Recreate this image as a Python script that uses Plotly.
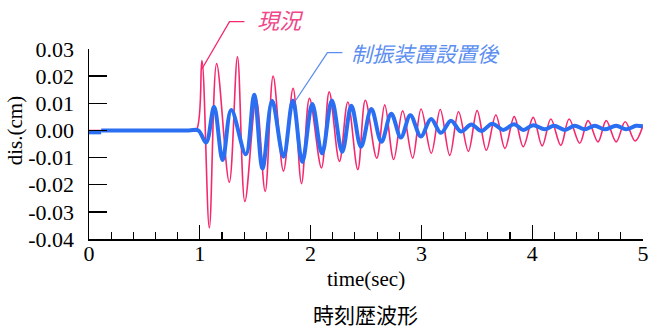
import plotly.graph_objects as go

# ---- data ----
genkyo_t = [0.0, 0.90, 0.967, 1.019, 1.086, 1.152, 1.266, 1.340, 1.407, 1.509, 1.590, 1.662, 1.755,
            1.842, 1.918, 1.990, 2.098, 2.168, 2.260, 2.336, 2.426, 2.494, 2.597, 2.669,
            2.750, 2.831, 2.921, 2.997, 3.089, 3.170, 3.256, 3.335, 3.424, 3.503, 3.586,
            3.672, 3.754, 3.838, 3.919, 4.009, 4.090, 4.168, 4.258, 4.333, 4.429, 4.504,
            4.594, 4.668, 4.758, 4.839, 4.929, 4.998]
genkyo_v = [0.0, 0.0, 0.0, 0.0257, -0.0359, 0.0246, -0.0191, 0.0271, -0.0262, 0.0116, -0.0225, 0.0200, -0.0150,
            0.0155, -0.0196, 0.0118, -0.0138, 0.0142, -0.0114, 0.0105, -0.0144, 0.0111, -0.0102, 0.0094,
            -0.0107, 0.0072, -0.0102, 0.0079, -0.0084, 0.0077, -0.0092, 0.0069, -0.0077, 0.0073, -0.0073,
            0.0057, -0.0066, 0.0051, -0.0060, 0.0048, -0.0057, 0.0042, -0.0055, 0.0042, -0.0047, 0.0036,
            -0.0042, 0.0036, -0.0042, 0.0032, -0.0039, 0.0016]

seishin_t = [0.11, 0.90, 0.987, 1.057, 1.129, 1.206, 1.284, 1.416, 1.491, 1.566, 1.653, 1.755, 1.840,
             1.925, 2.015, 2.103, 2.192, 2.285, 2.368, 2.455, 2.548, 2.639, 2.728, 2.815,
             2.900, 2.995, 3.087, 3.177, 3.267, 3.357, 3.451, 3.541, 3.640, 3.739, 3.836,
             3.919, 4.009, 4.114, 4.198, 4.294, 4.384, 4.474, 4.564, 4.654, 4.758, 4.848,
             4.938, 4.998]
seishin_v = [0.0, 0.0, 0.0, -0.0045, 0.0087, -0.0109, 0.0075, -0.0088, 0.0131, -0.0140, 0.0109, -0.0097, 0.0110,
             -0.0116, 0.0097, -0.0085, 0.0110, -0.0079, 0.0091, -0.0060, 0.0079, -0.0042, 0.0061, -0.0026,
             0.0056, -0.0022, 0.0042, -0.0009, 0.0036, -0.0004, 0.0022, -0.0002, 0.0025, 0.0002, 0.0023,
             0.0002, 0.0019, 0.0004, 0.0017, 0.0002, 0.0017, 0.0004, 0.0017, 0.0004, 0.0017, 0.0004,
             0.0017, 0.0015]

# short offset stub at the very start of the damped series
stub_t = [0.0, 0.11]
stub_v = [-0.0007, -0.0007]

y_tickvals = [0.03, 0.02, 0.01, 0.0, -0.01, -0.02, -0.03, -0.04]
y_ticktext = ["0.03", "0.02", "0.01", "0.00", "-0.01", "-0.02", "-0.03", "-0.04"]
x_tickvals = [0, 1, 2, 3, 4, 5]
x_ticktext = ["0", "1", "2", "3", "4", "5"]

RED = "#f5286e"
BLUE = "#2a6ef2"
RED_TXT = "#f0468a"
BLUE_TXT = "#5b8ef0"
SERIF = "Liberation Serif, Times New Roman, serif"
CJK = "Noto Sans CJK JP"

fig = go.Figure()
fig.add_trace(go.Scatter(x=genkyo_t, y=genkyo_v, mode="lines", name="現況",
                         line=dict(color=RED, width=1.6, shape="spline", smoothing=1.0)))
fig.add_trace(go.Scatter(x=seishin_t, y=seishin_v, mode="lines", name="制振装置設置後",
                         line=dict(color=BLUE, width=4, shape="spline", smoothing=1.0)))
fig.add_trace(go.Scatter(x=stub_t, y=stub_v, mode="lines", showlegend=False,
                         line=dict(color=BLUE, width=4)))

WIN_W, WIN_H = 661, 329
# plot area in window pixels
L, R, T, B = 89, 645, 49, 239


def px(x):
    return (x - L) / (R - L)


def py(y):
    return (B - y) / (B - T)


shapes = [
    dict(type="path", xref="paper", yref="paper",
         path=f"M {px(201.7)} {py(70)} L {px(230)} {py(21.7)} L {px(245)} {py(21.7)}",
         line=dict(color=RED, width=1.3)),
    dict(type="path", xref="paper", yref="paper",
         path=f"M {px(296.7)} {py(100)} L {px(328.3)} {py(52.7)} L {px(343.3)} {py(52.7)}",
         line=dict(color=BLUE_TXT, width=1.3)),
]

annotations = [
    dict(text="<i>現況</i>", xref="paper", yref="paper", x=px(256), y=py(18.5),
         xanchor="left", yanchor="middle", showarrow=False,
         font=dict(family=CJK, size=22, color=RED_TXT)),
    dict(text="<i>制振装置設置後</i>", xref="paper", yref="paper", x=px(350), y=py(52.7),
         xanchor="left", yanchor="middle", showarrow=False,
         font=dict(family=CJK, size=21, color=BLUE_TXT)),
    dict(text="dis.(cm)", xref="paper", yref="paper", x=px(15), y=py(131),
         xanchor="center", yanchor="middle", showarrow=False, textangle=-90,
         font=dict(family=SERIF, size=21, color="black")),
    dict(text="time(sec)", xref="paper", yref="paper", x=px(367), y=py(279),
         xanchor="center", yanchor="middle", showarrow=False,
         font=dict(family=SERIF, size=21, color="black")),
    dict(text="時刻歴波形", xref="paper", yref="paper", x=px(366), y=py(314),
         xanchor="center", yanchor="middle", showarrow=False,
         font=dict(family=CJK, size=21, color="black")),
]

fig.update_layout(
    width=WIN_W, height=WIN_H,
    margin=dict(l=L, r=WIN_W - R, t=T, b=WIN_H - B, pad=0),
    paper_bgcolor="white", plot_bgcolor="white",
    showlegend=False,
    shapes=shapes,
    annotations=annotations,
    xaxis=dict(range=[0, 5], tickvals=x_tickvals, ticktext=x_ticktext,
               showline=True, linecolor="black", linewidth=1.5,
               ticks="inside", ticklen=14, tickwidth=1.3, tickcolor="black",
               minor=dict(dtick=0.2, ticks="inside", ticklen=7, tickwidth=1.1, tickcolor="black"),
               showgrid=False, zeroline=False,
               tickfont=dict(family=SERIF, size=22, color="black"),
               ticklabelstandoff=-6),
    yaxis=dict(range=[-0.04, 0.03], tickvals=y_tickvals, ticktext=y_ticktext,
               showline=True, linecolor="black", linewidth=1.5,
               ticks="inside", ticklen=18, tickwidth=1.3, tickcolor="black",
               showgrid=False, zeroline=False,
               tickfont=dict(family=SERIF, size=22, color="black"),
               ticklabelstandoff=9),
)

fig.write_html("out.html",
               config={"displayModeBar": False, "staticPlot": True},
               post_script="document.body.style.margin='0';document.body.style.overflow='hidden';")
